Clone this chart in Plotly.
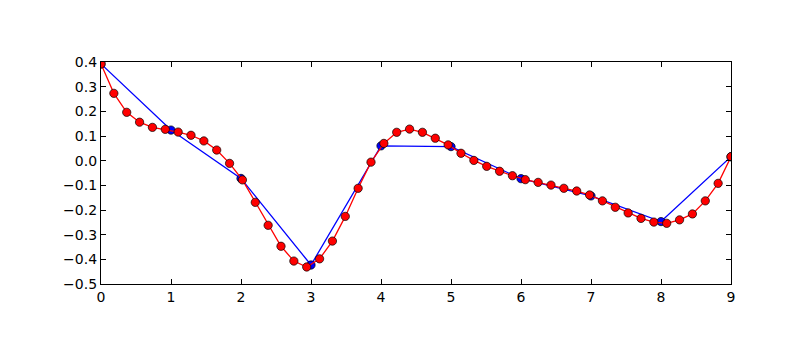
import numpy as np
import plotly.graph_objects as go

x_data = list(range(10))
y_data = [0.392, 0.124, -0.072, -0.423, 0.060, 0.057, -0.073, -0.143, -0.247, 0.016]

x_fine = list(np.linspace(0, 9, 50))
y_fine = [0.392, 0.273, 0.196, 0.156, 0.135, 0.127, 0.116, 0.103, 0.080, 0.043,
          -0.011, -0.078, -0.169, -0.262, -0.347, -0.407, -0.431, -0.398, -0.326, -0.226,
          -0.112, -0.006, 0.070, 0.115, 0.128, 0.115, 0.091, 0.064, 0.030, 0.001,
          -0.023, -0.043, -0.061, -0.077, -0.088, -0.099, -0.112, -0.123, -0.139, -0.163,
          -0.189, -0.212, -0.234, -0.249, -0.254, -0.240, -0.216, -0.163, -0.092, 0.016]

x_ticks = list(range(10))
y_ticks = [round(-0.5 + 0.1 * i, 1) for i in range(10)]

fig = go.Figure()
fig.add_trace(go.Scatter(
    x=x_data, y=y_data, mode="lines+markers",
    line=dict(color="#0000ff", width=1.3),
    marker=dict(color="#0000ff", size=8.3, line=dict(color="black", width=0.7)),
))
fig.add_trace(go.Scatter(
    x=x_fine, y=y_fine, mode="lines+markers",
    line=dict(color="#ff0000", width=1.3),
    marker=dict(color="#ff0000", size=8.3, line=dict(color="black", width=0.7)),
))

axis_common = dict(
    showgrid=False, zeroline=False, showline=True, linecolor="black", linewidth=1.3,
    mirror="ticks", ticks="inside", ticklen=5, tickwidth=1.2, tickcolor="black",
    tickfont=dict(family="DejaVu Sans", size=14, color="black"),
)
fig.update_xaxes(range=[0, 9], tickvals=x_ticks, ticktext=[str(v) for v in x_ticks], **axis_common)
fig.update_yaxes(range=[-0.5, 0.4], tickvals=y_ticks,
                 ticktext=[("\u2212%.1f" % abs(v)) if v < 0 else "%.1f" % v for v in y_ticks],
                 **axis_common)
fig.update_layout(
    width=812, height=354,
    margin=dict(l=101, r=81, t=62, b=70),
    paper_bgcolor="white", plot_bgcolor="white",
    showlegend=False,
)
fig.write_html("out.html")
